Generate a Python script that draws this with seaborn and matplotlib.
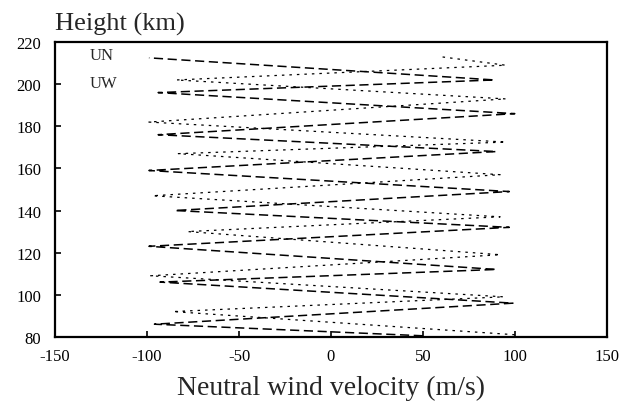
import pandas as pd
import seaborn as sn
import matplotlib
matplotlib.use("Agg")
import matplotlib.pyplot as plt
from matplotlib.lines import Line2D

# zigzag vertices (velocity m/s, height km)
un_vel = [50, -96, 99, -93, 90, -99, 97, -85, 97, -99, 90, -94, 100, -94, 89, -99]
un_height = [80.5, 86, 96, 106, 112, 123, 132, 140, 149, 159, 168, 176, 186, 196, 202, 212.5]

uw_vel = [100, -86, 94, -98, 92, -78, 92, -97, 92, -83, 95, -99, 95, -84, 95, 60]
uw_height = [81, 92, 99, 109, 119, 130, 137, 147, 157, 167, 172.5, 182, 193, 202, 209, 213]

x_ticks = [-150, -100, -50, 0, 50, 100, 150]
y_ticks = [80, 100, 120, 140, 160, 180, 200, 220]

sn.set_style("ticks")
plt.rcParams['font.family'] = ['Liberation Serif', 'DejaVu Serif']
plt.rcParams['axes.unicode_minus'] = False

fig = plt.figure(figsize=(6.34, 4.10), dpi=100)
ax = fig.add_axes([0.087, 0.176, 0.870, 0.719])

df_un = pd.DataFrame({'vel': un_vel, 'h': un_height})
df_uw = pd.DataFrame({'vel': uw_vel, 'h': uw_height})
sn.lineplot(data=df_un, x='vel', y='h', sort=False, estimator=None, ax=ax,
            color='black', lw=1.1, linestyle=(0, (6, 3)))
sn.lineplot(data=df_uw, x='vel', y='h', sort=False, estimator=None, ax=ax,
            color='black', lw=0.9, linestyle=(0, (2, 4)))

ax.set_xlim(-150, 150)
ax.set_ylim(80, 220)
ax.set_xticks(x_ticks)
ax.set_yticks(y_ticks)
ax.tick_params(direction='in', length=4, width=1.2, labelsize=12, colors='black')
ax.tick_params(axis='x', pad=8)
ax.tick_params(axis='y', pad=10)
for s in ax.spines.values():
    s.set_linewidth(1.6)
    s.set_color('black')

ax.set_xlabel('Neutral wind velocity (m/s)', fontsize=20, labelpad=8)
ax.set_ylabel('')
ax.set_title('Height (km)', loc='left', fontsize=19, pad=9)

# legend shows only the names
handles = [Line2D([], [], lw=0), Line2D([], [], lw=0)]
ax.legend(handles, ['UN', 'UW'], loc='upper left', frameon=False,
          handlelength=0, handletextpad=0, fontsize=12, labelspacing=0.75,
          bbox_to_anchor=(0.035, 1.035))

fig.savefig('out.png', dpi=100)
